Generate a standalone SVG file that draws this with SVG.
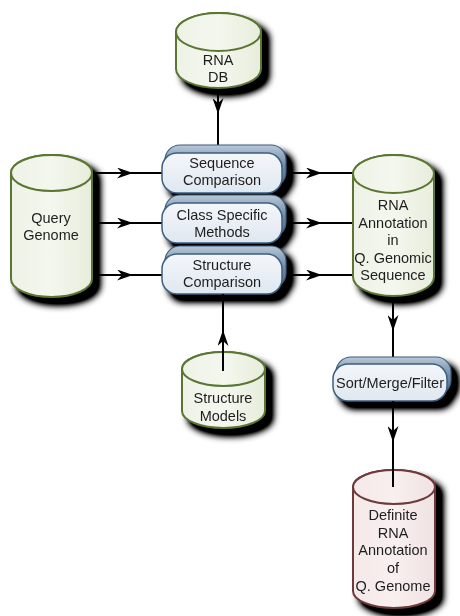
<svg xmlns="http://www.w3.org/2000/svg" width="460" height="616" viewBox="0 0 460 616">
<defs>
<filter id="sh" x="-20%" y="-20%" width="160%" height="160%" color-interpolation-filters="sRGB">
<feGaussianBlur in="SourceAlpha" stdDeviation="3.5"/>
<feOffset dx="7" dy="7" result="b"/>
<feComponentTransfer><feFuncA type="linear" slope="1.6"/></feComponentTransfer>
<feMerge><feMergeNode/><feMergeNode in="SourceGraphic"/></feMerge>
</filter>
<linearGradient id="gG" x1="0" y1="0" x2="1" y2="0"><stop offset="0" stop-color="#eef2e6"/><stop offset="0.5" stop-color="#f4f7ee"/><stop offset="1" stop-color="#e7eddc"/></linearGradient>
<linearGradient id="gR" x1="0" y1="0" x2="1" y2="0"><stop offset="0" stop-color="#f5e9e9"/><stop offset="0.5" stop-color="#f8efef"/><stop offset="1" stop-color="#f0e2e2"/></linearGradient>
<linearGradient id="gB" x1="0" y1="0" x2="0" y2="1"><stop offset="0" stop-color="#f4f7fb"/><stop offset="1" stop-color="#dfe7f0"/></linearGradient>
<linearGradient id="gS" x1="0" y1="0" x2="0" y2="1"><stop offset="0" stop-color="#b8c8d8"/><stop offset="0.5" stop-color="#6f8aa6"/><stop offset="1" stop-color="#4d6a88"/></linearGradient>
<marker id="ah" viewBox="0 0 16 11" refX="16" refY="5.5" markerWidth="16" markerHeight="11" markerUnits="userSpaceOnUse" orient="auto">
<path d="M0,0 L16,5.5 L0,11 L5,5.5 Z" fill="#000"/>
</marker>
<style>
.cg{fill:url(#gG);stroke:#5b7633;stroke-width:2}
.cr{fill:url(#gR);stroke:#6e3a3a;stroke-width:2}
.bk{fill:url(#gS);stroke:#3e5f80;stroke-width:1.2}
.fr{fill:url(#gB);stroke:#3e5f80;stroke-width:1.5}
text{font-family:"Liberation Sans",Arial,sans-serif;font-size:14.5px;fill:#1e1e1e;text-anchor:middle}
.ln{fill:none;stroke:#000;stroke-width:2;marker-mid:url(#ah)}
</style>
</defs>
<rect width="460" height="616" fill="#fff"/>

<g id="connectors">
<path class="ln" d="M218,86 L218,114 L218,146"/>
<path class="ln" d="M92,173 L133,173 L162,173"/>
<path class="ln" d="M92,223 L133,223 L162,223"/>
<path class="ln" d="M92,275 L133,275 L162,275"/>
<path class="ln" d="M284,173 L322,173 L353,173"/>
<path class="ln" d="M284,223 L322,223 L353,223"/>
<path class="ln" d="M284,275 L322,275 L353,275"/>
<path class="ln" d="M393,296 L393,331 L393,358"/>
</g>

<g id="rna-db" filter="url(#sh)">
<path class="cg" d="M176,32 L176,69 A42.5,19 0 0 0 261,69 L261,32 A42.5,19 0 0 0 176,32 Z"/>
<ellipse class="cg" cx="218.5" cy="32" rx="42.5" ry="19"/>
<text x="218" y="65">RNA</text>
<text x="218" y="82">DB</text>
</g>

<g id="query-genome" filter="url(#sh)">
<path class="cg" d="M11,173 L11,279 A40.5,18 0 0 0 92,279 L92,173 A40.5,18 0 0 0 11,173 Z"/>
<ellipse class="cg" cx="51.5" cy="173" rx="40.5" ry="18"/>
<text x="51" y="223">Query</text>
<text x="51" y="240">Genome</text>
</g>

<g id="rna-annotation" filter="url(#sh)">
<path class="cg" d="M353,174 L353,277 A40.5,19 0 0 0 434,277 L434,174 A40.5,19 0 0 0 353,174 Z"/>
<ellipse class="cg" cx="393.5" cy="174" rx="40.5" ry="19"/>
<text x="393" y="210">RNA</text>
<text x="393" y="227.5">Annotation</text>
<text x="393" y="245">in</text>
<text x="393" y="262.5">Q. Genomic</text>
<text x="393" y="280">Sequence</text>
</g>

<g id="sequence-comparison" filter="url(#sh)">
<rect class="bk" x="165" y="145" width="121" height="42" rx="15"/>
<rect class="fr" x="162" y="153" width="120" height="40" rx="15"/>
<text x="222" y="168">Sequence</text>
<text x="222" y="185">Comparison</text>
</g>

<g id="class-specific-methods" filter="url(#sh)">
<rect class="bk" x="165" y="195" width="121" height="42" rx="15"/>
<rect class="fr" x="162" y="203" width="120" height="40" rx="15"/>
<text x="222" y="220">Class Specific</text>
<text x="222" y="237">Methods</text>
</g>

<g id="structure-comparison" filter="url(#sh)">
<rect class="bk" x="165" y="246" width="121" height="42" rx="15"/>
<rect class="fr" x="162" y="254" width="120" height="40" rx="15"/>
<text x="222" y="270">Structure</text>
<text x="222" y="287">Comparison</text>
</g>

<g id="structure-models" filter="url(#sh)">
<path class="cg" d="M182,369 L182,411 A41.5,17 0 0 0 265,411 L265,369 A41.5,17 0 0 0 182,369 Z"/>
<ellipse class="cg" cx="223.5" cy="369" rx="41.5" ry="17"/>
<text x="223" y="403">Structure</text>
<text x="223" y="421">Models</text>
</g>

<g id="sort-merge-filter" filter="url(#sh)">
<rect class="bk" x="336" y="357" width="115" height="38" rx="15"/>
<rect class="fr" x="333" y="364" width="114" height="37" rx="15"/>
<text x="390" y="388">Sort/Merge/Filter</text>
</g>

<g id="definite-annotation" filter="url(#sh)">
<path class="cr" d="M353,487 L353,591 A41,17 0 0 0 435,591 L435,487 A41,17 0 0 0 353,487 Z"/>
<ellipse class="cr" cx="394" cy="487" rx="41" ry="17"/>
<text x="393" y="520">Definite</text>
<text x="393" y="538">RNA</text>
<text x="393" y="555">Annotation</text>
<text x="393" y="573">of</text>
<text x="393" y="591">Q. Genome</text>
</g>

<g id="connectors-over">
<path class="ln" d="M223,371 L223,330 L223,294"/>
<path class="ln" d="M393,401 L393,442 L393,487"/>
</g>
</svg>
